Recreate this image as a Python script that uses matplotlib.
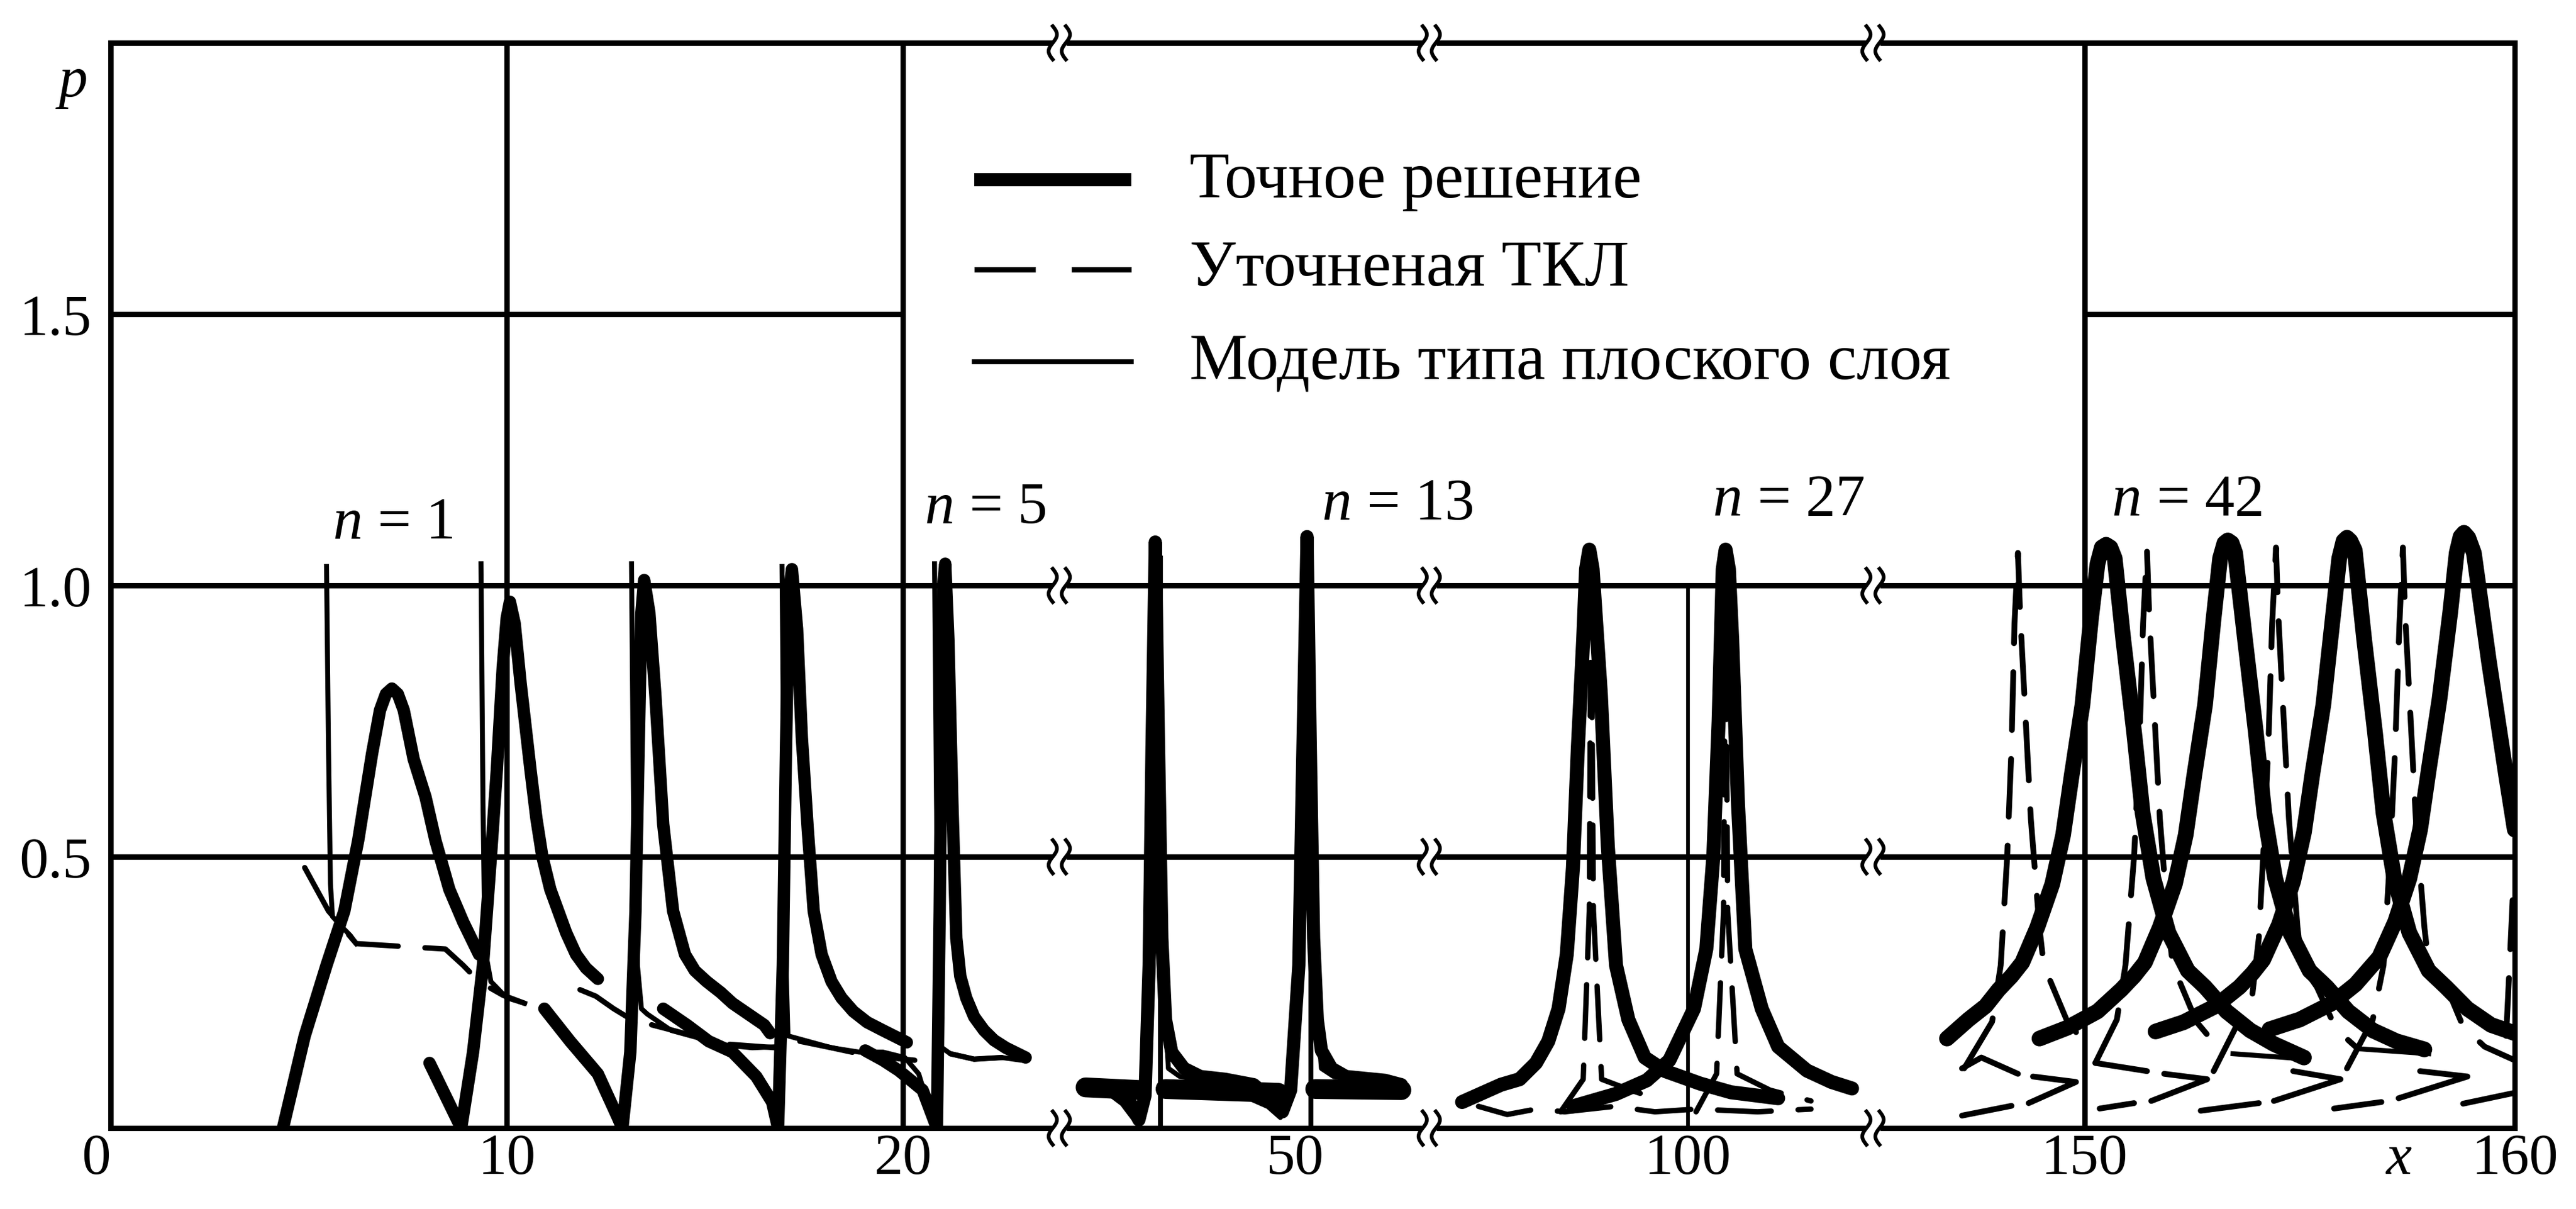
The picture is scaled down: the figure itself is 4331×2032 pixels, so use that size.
import numpy as np
import matplotlib
matplotlib.use("Agg")
import matplotlib.pyplot as plt
from matplotlib.lines import Line2D

plt.rcParams["font.family"] = ["Liberation Serif", "DejaVu Serif"]
plt.rcParams["mathtext.fontset"] = "custom"
plt.rcParams["mathtext.rm"] = "Liberation Serif"
plt.rcParams["mathtext.it"] = "Liberation Serif:italic"
plt.rcParams["mathtext.bf"] = "Liberation Serif:bold"

# ---------------- data ----------------
# segment 1 (x 0..24)
s1_exact_1 = [(4.35, 0.0), (4.9, 0.17), (5.45, 0.30), (5.9, 0.40), (6.25, 0.53), (6.6, 0.69), (6.8, 0.77),
              (6.95, 0.80), (7.1, 0.81), (7.25, 0.80), (7.4, 0.77), (7.65, 0.68), (7.95, 0.61), (8.2, 0.53),
              (8.55, 0.44), (8.9, 0.38), (9.3, 0.32)]
s1_exact_2 = [(8.05, 0.12), (8.45, 0.06), (8.85, 0.0), (9.15, 0.14), (9.4, 0.30), (9.6, 0.50), (9.75, 0.66),
              (9.9, 0.85), (10.0, 0.94), (10.08, 0.97), (10.2, 0.93), (10.35, 0.82), (10.6, 0.66), (10.75, 0.57),
              (10.9, 0.50), (11.1, 0.44), (11.3, 0.40), (11.5, 0.36), (11.75, 0.32), (12.0, 0.295), (12.3, 0.275)]
s1_exact_3 = [(10.95, 0.22), (11.6, 0.16), (12.3, 0.10), (12.8, 0.02), (12.92, 0.0), (13.12, 0.14), (13.25, 0.40),
              (13.33, 0.70), (13.4, 0.95), (13.47, 1.01), (13.6, 0.95), (13.75, 0.80), (13.95, 0.56), (14.2, 0.40),
              (14.5, 0.32), (14.75, 0.29), (15.05, 0.27), (15.4, 0.25), (15.7, 0.23), (16.1, 0.21), (16.5, 0.19),
              (16.65, 0.175)]
s1_exact_4 = [(13.95, 0.22), (14.55, 0.19), (15.1, 0.16), (15.7, 0.14), (16.3, 0.095), (16.7, 0.048), (16.85, 0.0),
              (16.97, 0.30), (17.05, 0.70), (17.12, 0.98), (17.2, 1.03), (17.33, 0.92), (17.45, 0.72), (17.6, 0.55),
              (17.75, 0.40), (17.95, 0.32), (18.2, 0.27), (18.45, 0.24), (18.75, 0.215), (19.1, 0.195), (19.5, 0.18),
              (20.1, 0.158)]
s1_exact_5 = [(19.05, 0.143), (19.5, 0.125), (19.9, 0.106), (20.5, 0.07), (20.86, 0.0), (20.93, 0.40), (20.98, 0.80),
              (21.02, 1.0), (21.07, 1.04), (21.15, 0.90), (21.25, 0.60), (21.35, 0.35), (21.45, 0.28), (21.6, 0.24),
              (21.8, 0.205), (22.05, 0.18), (22.3, 0.162), (22.6, 0.148), (23.1, 0.13)]
s1_model = [
    [(5.45, 1.035), (5.5, 0.70), (5.55, 0.45), (5.6, 0.39), (5.85, 0.37), (6.05, 0.355), (6.2, 0.34)],
    [(9.35, 1.04), (9.4, 0.60), (9.45, 0.33), (9.6, 0.27), (10.0, 0.24), (10.45, 0.23)],
    [(13.15, 1.04), (13.2, 0.60), (13.3, 0.30), (13.4, 0.22), (13.55, 0.21), (14.15, 0.18), (14.85, 0.166),
     (15.5, 0.153), (16.2, 0.148), (16.85, 0.15)],
    [(16.95, 1.035), (17.0, 0.60), (17.05, 0.30), (17.1, 0.17), (17.4, 0.164), (18.2, 0.148), (18.9, 0.14),
     (19.5, 0.14), (20.05, 0.13), (20.4, 0.10), (20.65, 0.04)],
    [(20.8, 1.04), (20.85, 0.60), (20.9, 0.30), (20.95, 0.15), (21.2, 0.137), (21.8, 0.127), (22.5, 0.13),
     (23.0, 0.125)],
]
s1_tkl = [
    [(4.9, 0.48), (5.5, 0.40), (6.2, 0.34), (7.3, 0.335), (8.45, 0.33), (8.9, 0.30), (9.3, 0.27), (9.9, 0.245),
     (10.45, 0.23)],
    [(11.85, 0.255), (12.25, 0.243), (12.7, 0.22), (13.15, 0.20), (14.2, 0.18), (15.5, 0.155), (16.8, 0.148)],
    [(17.4, 0.16), (18.2, 0.148), (18.9, 0.137), (19.6, 0.13), (20.3, 0.125)],
    [(21.2, 0.137), (21.8, 0.127), (22.5, 0.13)],
]

# segment 2 (x ~44..53)
s2_exact = [(44.9, 0.075), (45.5, 0.072), (46.0, 0.045), (46.2, 0.015), (46.35, 0.06), (46.45, 0.30), (46.52, 0.70),
            (46.6, 1.08), (46.68, 0.70), (46.76, 0.35), (46.85, 0.20), (47.0, 0.14), (47.3, 0.11), (47.7, 0.095),
            (48.3, 0.09), (49.0, 0.08), (49.4, 0.055), (49.7, 0.03), (49.9, 0.07), (50.1, 0.30), (50.2, 0.70),
            (50.3, 1.09), (50.38, 0.70), (50.46, 0.35), (50.55, 0.20), (50.65, 0.143), (50.9, 0.11), (51.25, 0.095),
            (52.2, 0.088), (52.6, 0.08)]
s2_base = [
    [(44.9, 0.075), (46.25, 0.07)],
    [(46.85, 0.072), (49.6, 0.065)],
    [(50.5, 0.072), (52.6, 0.07)],
]
s2_model = [
    [(46.72, 1.05), (46.72, 0.0)],
    [(50.4, 1.06), (50.4, 0.0)],
    [(46.85, 0.20), (46.92, 0.11), (47.2, 0.095), (47.6, 0.09)],
    [(50.58, 0.18), (50.65, 0.11), (50.95, 0.095), (51.4, 0.09)],
]
s2_tkl = [
    [(45.45, 0.065), (45.8, 0.045), (46.1, 0.015)],
    [(48.9, 0.055), (49.35, 0.04), (49.65, 0.02)],
]

# segment 3 (x ~94..104.5)
s3_exact_1 = [(94.5, 0.048), (95.45, 0.08), (95.9, 0.09), (96.3, 0.12), (96.6, 0.16), (96.85, 0.22), (97.05, 0.32),
              (97.2, 0.48), (97.32, 0.70), (97.45, 0.90), (97.52, 1.03), (97.6, 1.066), (97.68, 1.03), (97.75, 0.95),
              (97.88, 0.80), (98.05, 0.52), (98.25, 0.30), (98.55, 0.20), (98.95, 0.13), (99.45, 0.105),
              (100.3, 0.082), (101.05, 0.066), (102.2, 0.055)]
s3_exact_2 = [(97.2, 0.04), (98.25, 0.063), (99.0, 0.088), (99.55, 0.125), (100.15, 0.22), (100.45, 0.33),
              (100.62, 0.50), (100.75, 0.75), (100.85, 1.03), (100.92, 1.066), (101.0, 1.03), (101.08, 0.90),
              (101.22, 0.60), (101.4, 0.33), (101.8, 0.22), (102.2, 0.15), (102.9, 0.106), (103.5, 0.085),
              (104.0, 0.073)]
s3_tkl = [
    [(96.9, 0.03), (97.45, 0.09), (97.6, 0.40), (97.64, 1.03), (97.7, 0.40), (97.9, 0.09), (98.6, 0.07), (99.4, 0.05)],
    [(100.2, 0.03), (100.7, 0.10), (100.87, 0.40), (100.92, 1.03), (100.97, 0.40), (101.2, 0.10), (102.0, 0.07),
     (103.0, 0.05)],
    [(94.9, 0.04), (95.6, 0.025), (96.3, 0.035), (97.0, 0.03), (98.2, 0.04), (99.2, 0.03), (100.2, 0.035),
     (101.7, 0.03), (103.0, 0.035)],
]

# segment 4 (x ~145..160)
s4_exact = [
    [(146.8, 0.165), (147.3, 0.20), (147.7, 0.225), (148.0, 0.255), (148.3, 0.28), (148.55, 0.305), (148.9, 0.37),
     (149.25, 0.45), (149.5, 0.54), (149.7, 0.65), (149.95, 0.78), (150.15, 0.94), (150.3, 1.04), (150.4, 1.07),
     (150.5, 1.075), (150.6, 1.07), (150.7, 1.05), (150.9, 0.90), (151.15, 0.73), (151.35, 0.58), (151.6, 0.46),
     (151.95, 0.36), (152.4, 0.29), (152.8, 0.26), (153.3, 0.215), (153.85, 0.18), (154.4, 0.155), (155.1, 0.13)],
    [(148.95, 0.165), (149.6, 0.185), (150.3, 0.215), (150.85, 0.255), (151.15, 0.28), (151.4, 0.305),
     (151.75, 0.37), (152.1, 0.45), (152.35, 0.54), (152.55, 0.65), (152.8, 0.78), (153.0, 0.94), (153.15, 1.05),
     (153.25, 1.078), (153.33, 1.083), (153.42, 1.078), (153.5, 1.06), (153.73, 0.90), (153.98, 0.73),
     (154.18, 0.58), (154.43, 0.46), (154.78, 0.36), (155.23, 0.29), (155.63, 0.26), (156.13, 0.215),
     (156.7, 0.18), (157.25, 0.16), (157.9, 0.145)],
    [(151.65, 0.178), (152.3, 0.195), (153.05, 0.225), (153.6, 0.26), (153.9, 0.285), (154.15, 0.31),
     (154.52, 0.375), (154.85, 0.455), (155.1, 0.545), (155.3, 0.655), (155.55, 0.78), (155.77, 0.94),
     (155.92, 1.05), (156.02, 1.082), (156.1, 1.088), (156.18, 1.082), (156.28, 1.065), (156.5, 0.90),
     (156.75, 0.73), (156.95, 0.58), (157.2, 0.46), (157.55, 0.36), (158.0, 0.29), (158.4, 0.26), (158.9, 0.22),
     (159.45, 0.19), (160.0, 0.175)],
    [(154.3, 0.182), (155.0, 0.20), (155.75, 0.23), (156.3, 0.265), (156.85, 0.315), (157.22, 0.38), (157.55, 0.46),
     (157.8, 0.55), (158.0, 0.66), (158.25, 0.79), (158.5, 0.95), (158.65, 1.06), (158.74, 1.09), (158.82, 1.097),
     (158.92, 1.088), (159.05, 1.06), (159.4, 0.86), (159.8, 0.65), (160.0, 0.55)],
]
s4_tkl = [
    [(147.2, 0.11), (147.85, 0.196), (148.05, 0.30), (148.2, 0.50), (148.3, 0.70), (148.37, 0.93), (148.45, 1.06),
     (148.5, 0.95), (148.75, 0.57), (148.95, 0.37), (149.05, 0.30), (149.6, 0.196), (150.0, 0.158)],
    [(150.25, 0.12), (150.75, 0.20), (150.95, 0.30), (151.15, 0.50), (151.27, 0.70), (151.36, 0.93), (151.45, 1.065),
     (151.5, 0.95), (151.75, 0.57), (151.95, 0.37), (152.05, 0.30), (152.6, 0.196), (153.0, 0.158)],
    [(153.0, 0.105), (153.9, 0.246), (154.05, 0.35), (154.15, 0.50), (154.27, 0.70), (154.36, 0.93), (154.45, 1.07),
     (154.5, 0.95), (154.75, 0.57), (154.95, 0.37), (155.05, 0.30), (155.4, 0.26), (155.85, 0.182), (156.3, 0.15)],
    [(156.1, 0.11), (156.7, 0.20), (156.95, 0.30), (157.1, 0.50), (157.22, 0.70), (157.32, 0.93), (157.4, 1.07),
     (157.45, 0.95), (157.7, 0.57), (157.9, 0.37), (158.0, 0.30), (158.47, 0.25), (158.8, 0.187), (159.3, 0.15),
     (160.0, 0.125)],
    [(159.8, 0.17), (159.88, 0.30), (159.95, 0.42)],
]
s4_strokes = [
    [(147.15, 0.11), (147.6, 0.13), (148.45, 0.10)],
    [(148.8, 0.095), (149.8, 0.085), (148.7, 0.046)],
    [(147.15, 0.023), (148.3, 0.041)],
    [(150.25, 0.12), (151.45, 0.105)],
    [(151.85, 0.10), (152.85, 0.09), (151.55, 0.05)],
    [(150.35, 0.036), (151.15, 0.046)],
    [(154.85, 0.105), (155.95, 0.09), (154.4, 0.05)],
    [(152.7, 0.032), (154.05, 0.046)],
    [(157.8, 0.105), (158.9, 0.095), (157.3, 0.055)],
    [(155.8, 0.036), (156.9, 0.048)],
    [(158.8, 0.045), (160.0, 0.065)],
]
s4_model = [
    [(153.45, 0.137), (155.2, 0.127)],
    [(156.4, 0.146), (158.0, 0.137)],
]

legend_labels = ["Точное решение", "Уточненая ТКЛ", "Модель типа плоского слоя"]
n_labels = [(0, 7.12, 1.088, "1"), (0, 22.08, 1.116, "5"), (1, 52.5, 1.123, "13"),
            (2, 102.45, 1.13, "27"), (3, 152.38, 1.13, "42")]

# ---------------- layout ----------------
W, H = 4331, 2033
edges_px = [186, 1781, 2403, 3149, 4228]
bottom_px, top_px = 1897, 73
xlims = [(0, 23.95), (44.26, 53.28), (93.7, 104.51), (145.08, 160)]
GRID_LW = 6.5
EXACT_LW = 15
TKL_LW = 6.5
MODEL_LW = 6
FS = 70

fig = plt.figure(figsize=(W / 100, H / 100), dpi=100)
axes = []
for i in range(4):
    ax = fig.add_axes([edges_px[i] / W, 1 - bottom_px / H,
                       (edges_px[i + 1] - edges_px[i]) / W, (bottom_px - top_px) / H])
    ax.set_xlim(*xlims[i])
    ax.set_ylim(0, 2.0)
    for s in ax.spines.values():
        s.set_visible(False)
    ax.tick_params(length=0, labelsize=FS, pad=6)
    ax.set_yticks([])
    ax.patch.set_alpha(0)
    for y in (0, 0.5, 1.0, 2.0):
        ax.axhline(y, color="k", lw=GRID_LW, clip_on=False, zorder=1)
    axes.append(ax)

a1, a2, a3, a4 = axes
a1.vlines([0, 10, 20], 0, 2, color="k", lw=GRID_LW, clip_on=False, zorder=1)
a1.hlines(1.5, 0, 20, color="k", lw=GRID_LW, zorder=1)
a4.vlines([150, 160], 0, 2, color="k", lw=GRID_LW, clip_on=False, zorder=1)
a4.hlines(1.5, 150, 160, color="k", lw=GRID_LW, zorder=1)
a3.vlines(100, 0, 1.0, color="k", lw=4.5, zorder=1)


def draw(ax, pts, kind, lw=None):
    xs, ys = zip(*pts)
    if kind == "exact":
        ax.plot(xs, ys, color="k", lw=lw or EXACT_LW, solid_joinstyle="round",
                solid_capstyle="round", zorder=4)
    elif kind == "tkl":
        ax.plot(xs, ys, color="k", lw=lw or TKL_LW, dashes=(10, 5), dash_capstyle="round", zorder=3)
    elif kind == "stroke":
        ax.plot(xs, ys, color="k", lw=lw or TKL_LW, solid_capstyle="round", zorder=3)
    else:
        ax.plot(xs, ys, color="k", lw=lw or MODEL_LW, zorder=3)


for c in (s1_exact_1, s1_exact_2, s1_exact_3, s1_exact_4, s1_exact_5):
    draw(a1, c, "exact")
for c in s1_model:
    draw(a1, c, "model")
for c in s1_tkl:
    draw(a1, c, "tkl")

draw(a2, s2_exact, "exact", 16)
for c in s2_base:
    draw(a2, c, "exact", 24)
for c in s2_model:
    draw(a2, c, "model")
for c in s2_tkl:
    draw(a2, c, "stroke")

draw(a3, s3_exact_1, "exact", 17)
draw(a3, s3_exact_2, "exact", 17)
for c in s3_tkl:
    draw(a3, c, "tkl")

for c in s4_exact:
    draw(a4, c, "exact", 19)
for c in s4_tkl:
    draw(a4, c, "tkl", 7)
for c in s4_strokes:
    draw(a4, c, "stroke", 7)
for c in s4_model:
    draw(a4, c, "model")

# ticks
a1.set_xticks([0, 10, 20], ["0", "10", "20"])
a1.get_xticklabels()[0].set_ha("right")
a1.set_yticks([0.5, 1.0, 1.5], ["0.5", "1.0", "1.5"])
a1.tick_params(axis="y", pad=23)
a2.set_xticks([50], ["50"])
a3.set_xticks([100], ["100"])
a4.set_xticks([150, 157.3, 160], ["150", "x", "160"])
a4.get_xticklabels()[1].set_fontstyle("italic")

a1.text(-0.95, 1.902, "p", fontsize=FS, fontstyle="italic", ha="center", va="baseline")
for k, x, y, n in n_labels:
    axes[k].text(x, y, r"$n$ = " + n, fontsize=FS + 2, ha="center", va="baseline")


# axis breaks
def break_mark(bx, y):
    ypx = bottom_px - y / 2.0 * (bottom_px - top_px)
    fig.add_artist(Line2D([(bx - 12) / W, (bx + 12) / W], [1 - ypx / H] * 2, color="white",
                          lw=GRID_LW + 3, solid_capstyle="butt"))
    t = np.linspace(-1, 1, 25)
    for off in (-11, 11):
        fig.add_artist(Line2D((bx + off + 7 * np.sin(np.pi * t)) / W, 1 - (ypx - 28 * t) / H,
                              color="k", lw=4.5))


for bx in edges_px[1:4]:
    for y in (0, 0.5, 1.0, 2.0):
        break_mark(bx, y)

# legend drawn by hand
rows = [303, 454, 609]
bases = [332, 480, 638]
fig.add_artist(Line2D([1638 / W, 1902 / W], [1 - rows[0] / H] * 2, color="k", lw=16, solid_capstyle="butt"))
fig.add_artist(Line2D([1638 / W, 1902 / W], [1 - rows[1] / H] * 2, color="k", lw=TKL_LW, dashes=(11.4, 6.7)))
fig.add_artist(Line2D([1638 / W, 1902 / W], [1 - rows[2] / H] * 2, color="k", lw=MODEL_LW))
for lab, b in zip(legend_labels, bases):
    fig.text(2000 / W, 1 - b / H, lab, fontsize=79, va="baseline", ha="left")

fig.savefig("out.png", dpi=100)
